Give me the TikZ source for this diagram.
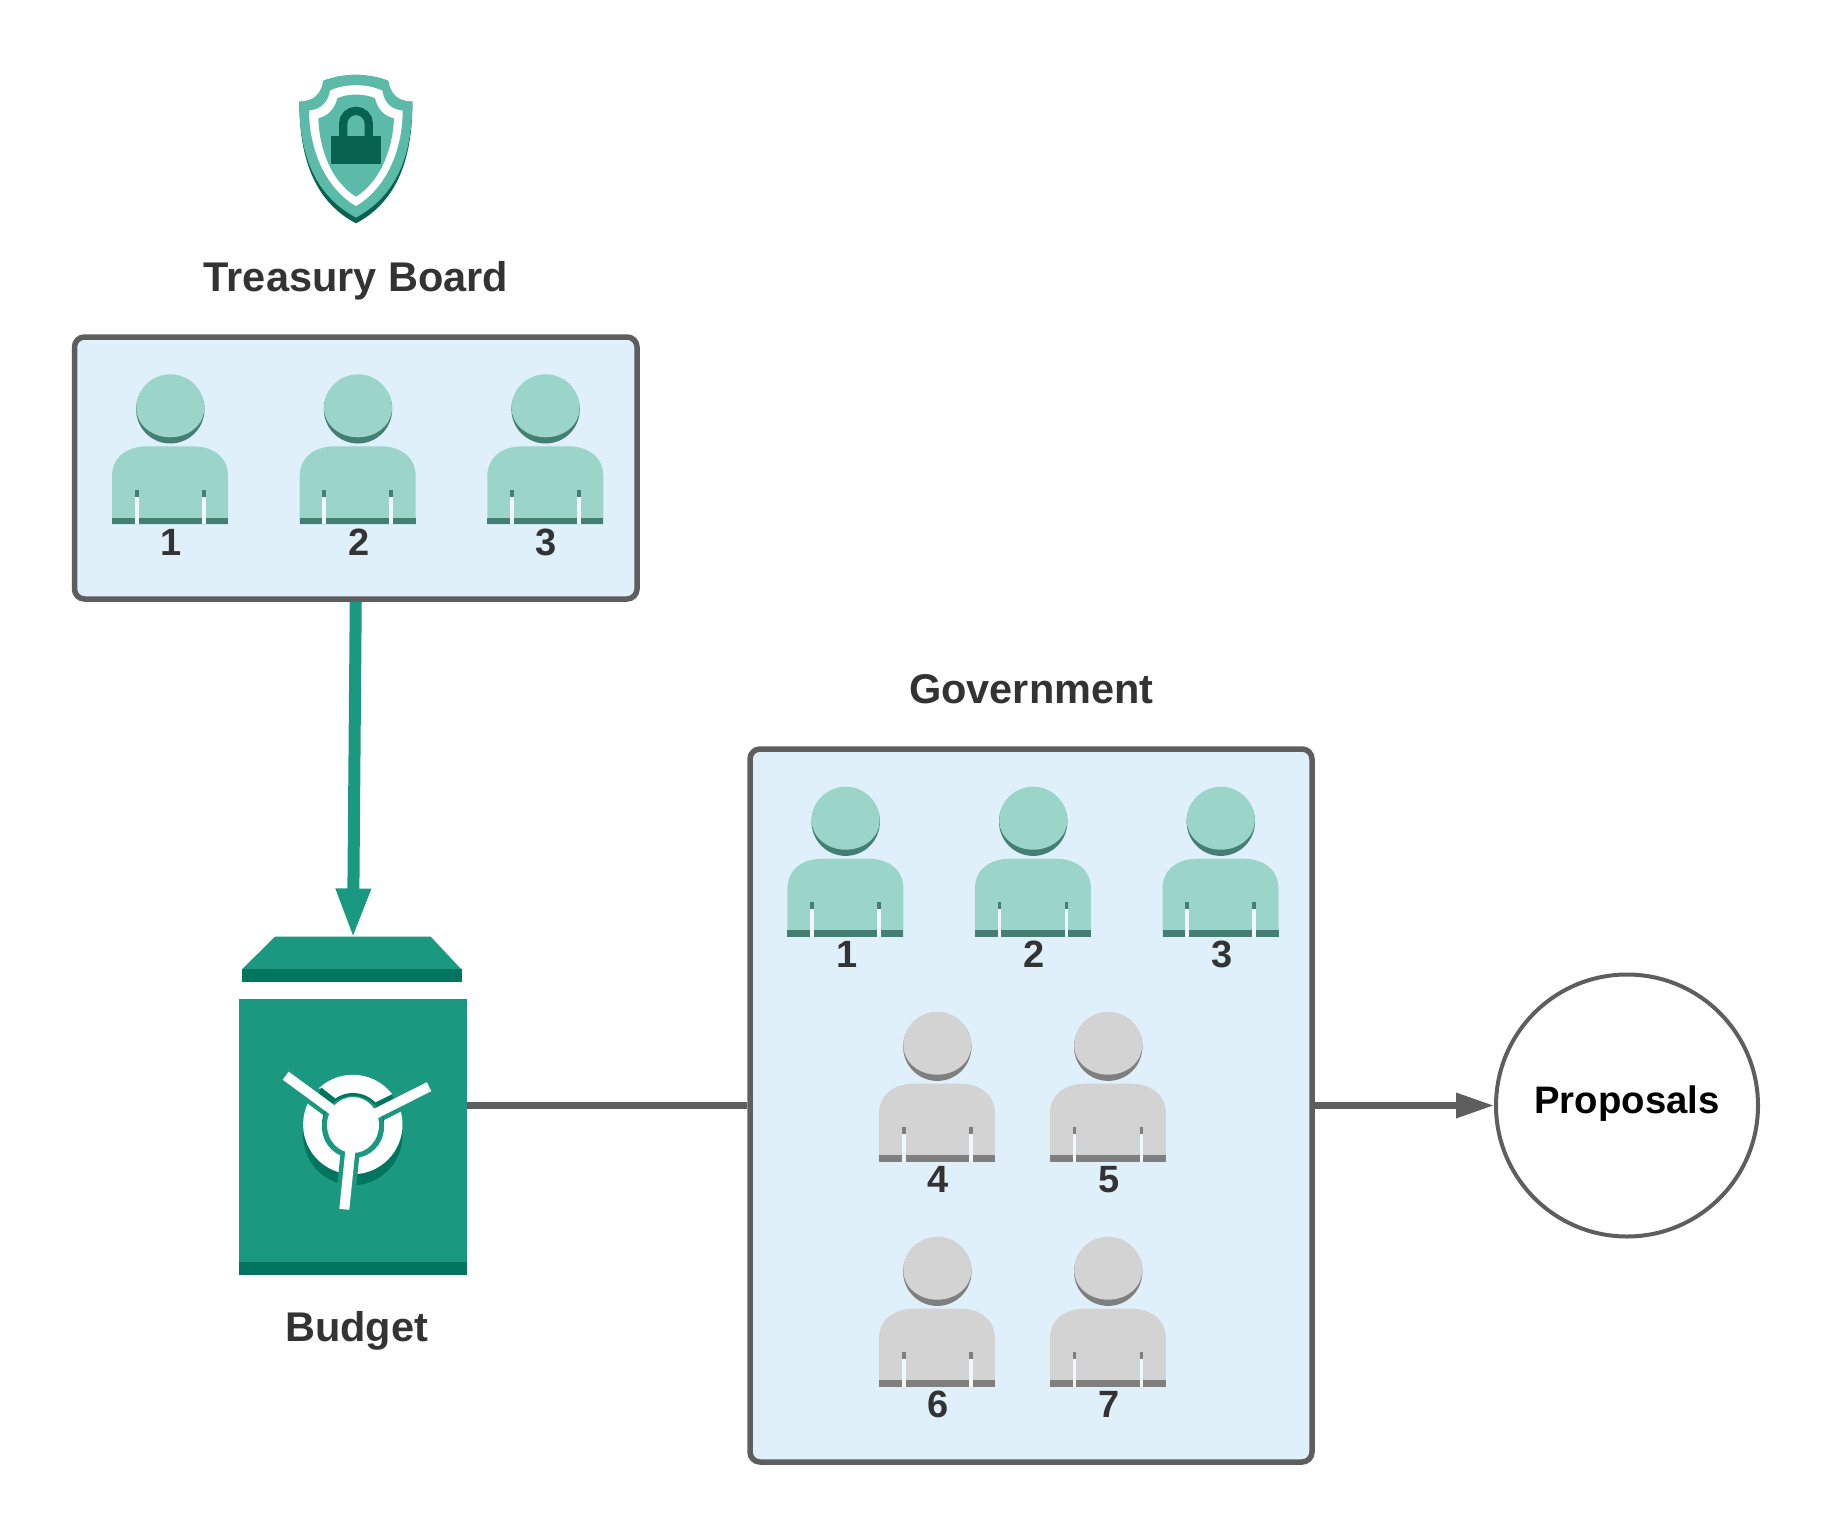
\documentclass[tikz,border=0pt]{standalone}
\usepackage{fontspec}
\setmainfont{Liberation Sans}
\usetikzlibrary{arrows.meta}

\definecolor{panelblue}{HTML}{E0F0FB}
\definecolor{edgegrey}{HTML}{5E5E5E}
\definecolor{inktext}{HTML}{333333}
\definecolor{safeteal}{HTML}{1B9880}
\definecolor{safedark}{HTML}{00755E}
\definecolor{shieldlight}{HTML}{5CBBA8}
\definecolor{shielddark}{HTML}{076350}
\definecolor{memberlight}{HTML}{9BD5CA}
\definecolor{memberdark}{HTML}{457F73}
\definecolor{guestlight}{HTML}{D3D3D3}
\definecolor{guestdark}{HTML}{7F7F7F}
\definecolor{slitwhite}{HTML}{F0F8FD}

\tikzset{
  panel/.style={draw=edgegrey,fill=panelblue,line width=5.5pt,rounded corners=10pt,inner sep=0pt},
  heading/.style={anchor=base,text=inktext,font=\fontsize{41.5}{45}\selectfont\bfseries},
  numlabel/.style={anchor=base,text=inktext,font=\fontsize{38}{42}\selectfont\bfseries},
  feed/.style={draw=safeteal,line width=12pt,-{Triangle[length=50pt,width=32pt]}},
  wire/.style={draw=edgegrey,line width=6.5pt},
}

% name, x, head top, light, dark, number
\newcommand{\drawperson}[6]{
  \begin{scope}[shift={(#2,#3)}]
    \fill[#5] (0.3,35) circle (34.2);
    \fill[#4] (-33.7,34) arc[start angle=180,end angle=360,x radius=34,y radius=34]
      arc[start angle=0,end angle=180,x radius=34,y radius=29] -- cycle;
    \fill[#4] (-58,150) -- (-58,102) .. controls (-58,82) and (-42,72) .. (-23,72)
      -- (23,72) .. controls (42,72) and (58,82) .. (58,102) -- (58,150) -- cycle;
    \fill[#5] (-58,143.5) rectangle (58,150);
    \fill[slitwhite] (-35.3,122) rectangle (-31.5,150);
    \fill[slitwhite] (31.7,122) rectangle (35.5,150);
    \fill[#5] (-35.3,115.7) rectangle (-31.5,122.7);
    \fill[#5] (31.7,115.7) rectangle (35.5,122.7);
    \node[numlabel] (#1) at (1.2,180.8) {#6};
  \end{scope}
}

\begin{document}
\begin{tikzpicture}[x=1pt,y=-1pt]
\useasboundingbox (0,0) rectangle (1836,1538);

% shield
\begin{scope}[shift={(260,50)},scale=0.33333]
  \fill[shielddark] (118,155) .. controls (118,310) and (155,450) .. (288,520)
    .. controls (420,450) and (458,310) .. (457,155) -- cycle;
  \fill[shieldlight] (190,92) .. controls (250,68) and (325,68) .. (385,92)
    .. controls (392,130) and (410,153) .. (457,155)
    .. controls (457,300) and (420,430) .. (288,503)
    .. controls (155,430) and (118,300) .. (118,155)
    .. controls (165,153) and (183,130) .. (190,92) -- cycle;
  \fill[white] (210,122) .. controls (255,100) and (320,100) .. (367,122)
    .. controls (372,155) and (390,178) .. (428,182)
    .. controls (428,290) and (385,410) .. (288,468)
    .. controls (190,410) and (148,290) .. (147,182)
    .. controls (185,178) and (205,155) .. (210,122) -- cycle;
  \fill[shieldlight] (232,145) .. controls (262,130) and (315,130) .. (345,145)
    .. controls (352,175) and (370,198) .. (402,205)
    .. controls (398,300) and (360,395) .. (288,440)
    .. controls (215,395) and (178,300) .. (175,205)
    .. controls (205,198) and (225,175) .. (232,145) -- cycle;
  \draw[shielddark,line width=8.3pt] (249.5,260) -- (249.5,221)
    arc[start angle=180,end angle=360,radius=38.5] -- (326.5,260);
  \fill[shielddark] (213,257) rectangle (362,343);
\end{scope}

\node[heading] (boardtitle) at (356,291) {Treasury Board};
\node[panel,minimum width=562.5pt,minimum height=262pt] (board) at (355.75,468) {};
\drawperson{b1}{170}{374.3}{memberlight}{memberdark}{1}
\drawperson{b2}{357.7}{374.3}{memberlight}{memberdark}{2}
\drawperson{b3}{545.3}{374.3}{memberlight}{memberdark}{3}

% safe
\fill[safeteal] (275,936.7) -- (430.7,936.7) -- (461.3,969.3) -- (242,969.3) -- cycle;
\fill[safedark] (242,969.3) rectangle (461.8,982.3);
\coordinate (safetop) at (353,938.5);
\node[fill=safeteal,inner sep=0pt,outer sep=0pt,minimum width=228pt,minimum height=275.7pt] (safe) at (353,1136.85) {};
\fill[safedark] (239,1262) rectangle (467,1274.7);
\fill[safedark] (352.8,1135.5) circle (49.7);
\fill[white] (352.8,1124.5) circle (49.7);
\draw[safeteal,line width=19pt] (353,1125) -- (285.7,1075.7);
\draw[safeteal,line width=19pt] (353,1125) -- (429,1086.7);
\draw[safeteal,line width=19pt] (353,1125) -- (344.3,1209.3);
\fill[safedark] (321,1087.3) -- (335,1098.3) -- (333.3,1104.3) -- (318.7,1093.3) -- cycle;
\fill[safedark] (375,1102.7) -- (392,1094.3) -- (393.3,1098.3) -- (376,1107.3) -- cycle;
\fill[safedark] (353,1124) circle (31);
\fill[safeteal] (353,1127) circle (31);
\draw[white,line width=10pt] (353,1125) -- (285.7,1075.7);
\draw[white,line width=10pt] (353,1125) -- (429,1086.7);
\draw[white,line width=10pt] (353,1125) -- (344.3,1209.3);
\fill[white] (353,1125) circle[x radius=26,y radius=28];
\node[heading] (safetitle) at (356.7,1341) {Budget};

\node[heading] (govtitle) at (1031.3,703.7) {Government};
\node[panel,minimum width=562pt,minimum height=713pt] (gov) at (1031,1105.5) {};
\drawperson{g1}{845.4}{786.7}{memberlight}{memberdark}{1}
\drawperson{g2}{1032.9}{786.7}{memberlight}{memberdark}{2}
\drawperson{g3}{1220.5}{786.7}{memberlight}{memberdark}{3}
\drawperson{g4}{937}{1011.7}{guestlight}{guestdark}{4}
\drawperson{g5}{1107.9}{1011.7}{guestlight}{guestdark}{5}
\drawperson{g6}{937}{1236.7}{guestlight}{guestdark}{6}
\drawperson{g7}{1107.9}{1236.7}{guestlight}{guestdark}{7}

\node[circle,draw=edgegrey,fill=white,line width=4pt,inner sep=0pt,minimum size=262pt] (props) at (1627,1105.5) {};
\node[anchor=base,font=\fontsize{38.3}{42}\selectfont\bfseries,text=black] (propstext) at (1627,1113.3) {Proposals};

\draw[feed] (board.south) -- (safetop);
\draw[wire] (gov.west -| safe.east) -- (gov.west);
\draw[wire,-{Triangle[length=38pt,width=24pt]}] (gov.east) -- (props.west);

\end{tikzpicture}
\end{document}
